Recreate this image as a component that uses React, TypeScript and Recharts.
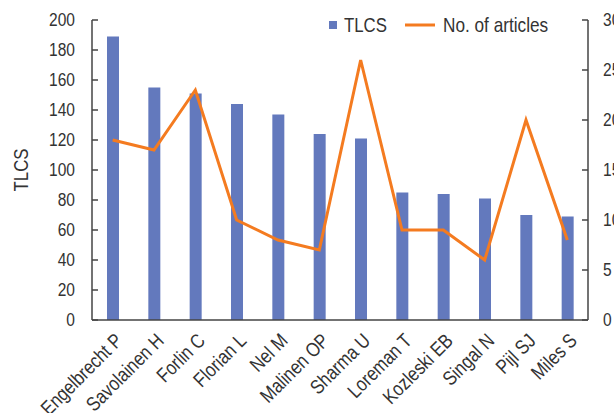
import React from "react";
import { ComposedChart, Bar, Line, XAxis, YAxis, Legend } from "recharts";

const authors = [
  "Engelbrecht P",
  "Savolainen H",
  "Forlin C",
  "Florian L",
  "Nel M",
  "Malinen OP",
  "Sharma U",
  "Loreman T",
  "Kozleski EB",
  "Singal N",
  "Pijl SJ",
  "Miles S",
];
const tlcsValues = [189, 155, 151, 144, 137, 124, 121, 85, 84, 81, 70, 69];
const articleCounts = [18, 17, 23, 10, 8, 7, 26, 9, 9, 6, 20, 8];
const leftTicks = [0, 20, 40, 60, 80, 100, 120, 140, 160, 180, 200];
const rightTicks = [0, 5, 10, 15, 20, 25, 30];

// no condensed font available, so squeeze Liberation Sans horizontally
const FONT = '"Liberation Sans", Arial, sans-serif';
const SQUEEZE = 0.84;
const BAR_COLOR = "#6379bd";
const LINE_COLOR = "#f47b20";
const AXIS_COLOR = "#444444";
const TEXT_COLOR = "#333333";

const data = authors.map((name, i) => ({
  name,
  tlcs: tlcsValues[i],
  articles: articleCounts[i],
}));

function NarrowText({ x, y, anchor, size, rotate = 0, children }: any) {
  return (
    <text
      transform={`translate(${x}, ${y}) rotate(${rotate}) scale(${SQUEEZE}, 1)`}
      dy="0.35em"
      textAnchor={anchor}
      fill={TEXT_COLOR}
      fontSize={size}
      fontFamily={FONT}
    >
      {children}
    </text>
  );
}

function AuthorTick({ x, y, payload }: any) {
  return (
    <NarrowText x={x + 6} y={y + 17} anchor="end" size={20} rotate={-45}>
      {payload.value}
    </NarrowText>
  );
}

function LeftTick({ x, y, payload }: any) {
  return (
    <NarrowText x={x} y={y} anchor="end" size={18.5}>
      {payload.value}
    </NarrowText>
  );
}

function RightTick({ x, y, payload }: any) {
  return (
    <NarrowText x={x} y={y} anchor="start" size={18.5}>
      {payload.value}
    </NarrowText>
  );
}

function AxisTitle({ viewBox }: any) {
  const cy = viewBox.y + viewBox.height / 2;
  return (
    <NarrowText x={21} y={cy} anchor="middle" size={20} rotate={-90}>
      TLCS
    </NarrowText>
  );
}

function ChartLegend() {
  return (
    <svg width={614} height={40} style={{ display: "block" }}>
      <rect x={329} y={21} width={8} height={8} fill={BAR_COLOR} />
      <text
        transform={`translate(344, 25) scale(0.8, 1)`}
        dy="0.35em"
        fill={TEXT_COLOR}
        fontSize={21}
        fontFamily={FONT}
      >
        TLCS
      </text>
      <line x1={405} x2={435} y1={25} y2={25} stroke={LINE_COLOR} strokeWidth={3} />
      <text
        transform={`translate(443, 25) scale(0.82, 1)`}
        dy="0.35em"
        fill={TEXT_COLOR}
        fontSize={21}
        fontFamily={FONT}
      >
        No. of articles
      </text>
    </svg>
  );
}

export default function App() {
  return (
    <div style={{ position: "fixed", left: 0, top: 0, width: 614, height: 413, background: "#fff" }}>
      <ComposedChart
        width={614}
        height={413}
        data={data}
        margin={{ top: 20, right: 0, bottom: 0, left: 0 }}
        barCategoryGap="0%"
      >
        <XAxis
          dataKey="name"
          interval={0}
          height={93}
          tickLine={false}
          tickSize={0}
          tickMargin={0}
          axisLine={{ stroke: AXIS_COLOR, strokeWidth: 1.5 }}
          tick={<AuthorTick />}
        />
        <YAxis
          yAxisId="left"
          width={92}
          domain={[0, 200]}
          ticks={leftTicks}
          interval={0}
          tickSize={-6}
          tickMargin={23}
          tickLine={{ stroke: AXIS_COLOR, strokeWidth: 1.5 }}
          axisLine={{ stroke: AXIS_COLOR, strokeWidth: 1.5 }}
          tick={<LeftTick />}
          label={<AxisTitle />}
        />
        <YAxis
          yAxisId="right"
          orientation="right"
          width={26}
          domain={[0, 30]}
          ticks={rightTicks}
          interval={0}
          tickSize={-6}
          tickMargin={21}
          tickLine={{ stroke: AXIS_COLOR, strokeWidth: 1.5 }}
          axisLine={{ stroke: AXIS_COLOR, strokeWidth: 1.5 }}
          tick={<RightTick />}
        />
        <Legend
          layout="horizontal"
          verticalAlign="middle"
          align="center"
          wrapperStyle={{ top: 0, left: 0, width: 614, pointerEvents: "none" }}
          content={<ChartLegend />}
        />
        <Bar yAxisId="left" dataKey="tlcs" name="TLCS" fill={BAR_COLOR} barSize={12} isAnimationActive={false} />
        <Line
          yAxisId="right"
          dataKey="articles"
          name="No. of articles"
          type="linear"
          stroke={LINE_COLOR}
          strokeWidth={3}
          dot={false}
          activeDot={false}
          isAnimationActive={false}
        />
      </ComposedChart>
    </div>
  );
}
